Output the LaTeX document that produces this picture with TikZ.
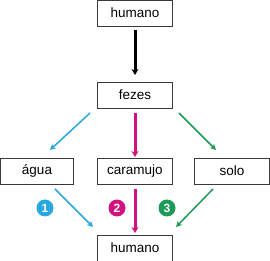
\documentclass[tikz,border=0pt]{standalone}
\usepackage{fontspec}
\setmainfont{Liberation Sans}
\usetikzlibrary{arrows.meta}
\definecolor{cblue}{HTML}{29A8E0}
\definecolor{cmag}{HTML}{D1127F}
\definecolor{cgreen}{HTML}{1E9A57}
\definecolor{boxc}{HTML}{3A3A3A}
\tikzset{
  x=1pt, y=-1pt,
  box/.style={draw=boxc, line width=0.9pt, minimum width=75pt, minimum height=26pt, inner sep=0pt, font=\fontsize{13.5}{15}\selectfont},
  arr/.style={line width=1.5pt, -{Stealth[length=6pt,width=6pt]}},
  thick arr/.style={line width=3pt, -{Stealth[length=6pt,width=7pt]}},
  num/.style={circle, inner sep=0pt, minimum size=17pt, text=white, font=\bfseries\fontsize{12}{13}\selectfont}
}
\begin{document}
\begin{tikzpicture}
\useasboundingbox (0,0) rectangle (270,261);
\node[box] (h1) at (135,13) {humano};
\node[box] (fz) at (135,95) {fezes};
\node[box, minimum width=73pt] (ag) at (37,171) {água};
\node[box] (ca) at (135,171) {caramujo};
\node[box] (so) at (232,171) {solo};
\node[box] (h2) at (135,248) {humano};
\coordinate (k1) at (135,30);
\coordinate (k2) at (135,75);
\coordinate (m1) at (135,113);
\coordinate (m2) at (135,157);
\coordinate (m3) at (135,189);
\coordinate (m4) at (135,233);
\coordinate (b1) at (90,113);
\coordinate (b2) at (50,150);
\coordinate (g1) at (179,113);
\coordinate (g2) at (216,150);
\coordinate (c1) at (55,189);
\coordinate (c2) at (93,227);
\coordinate (e1) at (213,189);
\coordinate (e2) at (176,227);
\draw[thick arr, black] (k1) -- (k2);
\draw[arr, cblue] (b1) -- (b2);
\draw[thick arr, cmag] (m1) -- (m2);
\draw[arr, cgreen] (g1) -- (g2);
\draw[arr, cblue] (c1) -- (c2);
\draw[thick arr, cmag] (m3) -- (m4);
\draw[arr, cgreen] (e1) -- (e2);
\node[num, fill=cblue] (n1) at (45,208) {1};
\node[num, fill=cmag] (n2) at (117,208) {2};
\node[num, fill=cgreen] (n3) at (167,208) {3};
\end{tikzpicture}
\end{document}
